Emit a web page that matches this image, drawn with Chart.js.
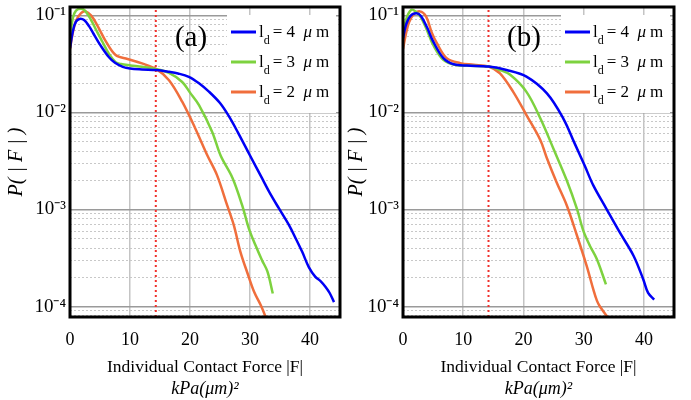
<!DOCTYPE html>
<html>
<head>
<meta charset="utf-8">
<script src="https://cdn.jsdelivr.net/npm/chart.js@4"></script>
<style>
  html, body { margin: 0; padding: 0; background: #fff; }
  #wrap { position: relative; width: 691px; height: 400px; }
  .panel { position: absolute; top: 0; height: 400px; }
  #pa { left: 0; width: 345px; }
  #pb { left: 345px; width: 346px; }
</style>
</head>
<body>
<div id="wrap">
  <div class="panel" id="pa"><canvas id="chartA"></canvas></div>
  <div class="panel" id="pb"><canvas id="chartB"></canvas></div>
</div>
<script>
// legend values of l_d (micrometres)
const ldValues = ['4', '3', '2'];
const lineColors = ['#0000f5', '#7dd23f', '#f06e3c'];
const xTicks = [0, 10, 20, 30, 40];
const yMin = 7.8e-5, yMax = 0.122;

// panel (a)
const aX4 = [0, 0.5, 1, 1.6, 2.4, 3.2, 4.1, 5.0, 6.5, 7.5, 8.8, 10, 12, 14.4, 16.5, 18, 19.8, 21.5, 23.2, 25, 26.5, 28, 30, 32, 33.2, 34.8, 36.5, 37.6, 38.7, 39.8, 40.9, 41.8, 42.6, 43.3, 44];
const aY4 = [0.046, 0.07, 0.086, 0.092, 0.089, 0.077, 0.062, 0.05, 0.037, 0.0325, 0.0295, 0.0283, 0.0277, 0.0273, 0.0262, 0.0252, 0.0233, 0.020, 0.0163, 0.0125, 0.0091, 0.0062, 0.0036, 0.0021, 0.00152, 0.00103, 0.00069, 0.000506, 0.000366, 0.000255, 0.000202, 0.000182, 0.000159, 0.000137, 0.000111];
const aX3 = [0, 0.5, 1, 1.8, 2.5, 3.5, 4.5, 5.4, 6.5, 7.6, 8.5, 10.1, 12, 14.4, 16.5, 18.7, 20, 21.5, 23.7, 25.1, 27.1, 28.7, 29.8, 30.9, 32, 32.9, 33.8];
const aY3 = [0.06, 0.095, 0.112, 0.117, 0.112, 0.09, 0.068, 0.0535, 0.04, 0.033, 0.0315, 0.0305, 0.0295, 0.0279, 0.0255, 0.0206, 0.016, 0.0119, 0.0063, 0.0036, 0.0021, 0.0011, 0.00064, 0.00043, 0.0003, 0.00023, 0.000136];
const aX2 = [0, 0.5, 1, 1.8, 2.6, 3.5, 4.5, 5.9, 7.6, 9.6, 12, 14.4, 16.5, 18.7, 20.9, 22.9, 24.5, 26.2, 27.3, 28.4, 29.6, 30.7, 31.8, 32.6, 33.2];
const aY2 = [0.045, 0.068, 0.088, 0.105, 0.11, 0.1, 0.08, 0.055, 0.039, 0.0355, 0.032, 0.0279, 0.0215, 0.0129, 0.0068, 0.0036, 0.00226, 0.0011, 0.00069, 0.000366, 0.000219, 0.000141, 0.000103, 0.000078, 0.00006];
const cutA = 14.3;

// panel (b)
const bX4 = [0, 0.5, 1.2, 2.2, 3, 4, 5, 6.7, 8.4, 10.6, 14.2, 17.2, 20.5, 23.9, 26.6, 28.5, 30.2, 31.6, 33.8, 36, 38.3, 39.9, 40.7, 41.7];
const bY4 = [0.058, 0.08, 0.098, 0.105, 0.098, 0.075, 0.054, 0.0363, 0.0314, 0.0304, 0.0297, 0.0274, 0.0234, 0.0157, 0.0087, 0.0048, 0.0028, 0.00177, 0.00101, 0.00058, 0.000332, 0.00019, 0.000138, 0.000118];
const bX3 = [0, 0.5, 1.4, 2.2, 3, 4, 5, 6.7, 8.6, 11, 14.2, 16, 17.8, 20.5, 22.8, 25, 27.2, 28.9, 29.95, 31.05, 32.2, 33.7];
const bY3 = [0.06, 0.09, 0.114, 0.108, 0.095, 0.07, 0.0498, 0.0348, 0.0309, 0.0302, 0.0297, 0.0275, 0.0244, 0.0163, 0.0087, 0.0042, 0.00199, 0.00101, 0.000602, 0.000421, 0.000307, 0.000169];
const bX2 = [0, 0.5, 1, 1.8, 2.8, 3.8, 4.8, 5.6, 7.25, 9.5, 11.7, 14.2, 16.1, 18.3, 20.5, 22.8, 23.8, 25.5, 27.2, 28.9, 30.5, 31.6, 32.2, 32.7, 34.1];
const bY2 = [0.045, 0.065, 0.085, 0.103, 0.11, 0.098, 0.066, 0.052, 0.0363, 0.0322, 0.031, 0.0297, 0.0253, 0.0163, 0.0094, 0.0052, 0.0035, 0.00191, 0.0011, 0.000536, 0.000262, 0.00015, 0.000115, 0.0001, 0.000076];
const cutB = 14.2;

const SERIF = "'Liberation Serif', 'Times New Roman', serif";
const SUP = { '-': '\u207B', '0': '\u2070', '1': '\u00B9', '2': '\u00B2', '3': '\u00B3', '4': '\u2074', '5': '\u2075' };

// legend box, panel tag, frame and the unit line under the x title
const panelDecor = {
  id: 'panelDecor',
  beforeDatasetsDraw(chart) {
    const { ctx, chartArea: a } = chart;
    ctx.save();
    ctx.fillStyle = '#fff';
    ctx.fillRect(a.right - 113, a.top + 8, 109, 98);
    ctx.restore();
  },
  afterDraw(chart, args, opts) {
    const { ctx, chartArea: a } = chart;
    ctx.save();
    chart.data.datasets.forEach((ds, i) => {
      if (!ds.ldLabel) return;
      const y = a.top + 25 + i * 30;
      ctx.strokeStyle = ds.borderColor;
      ctx.lineWidth = 3;
      ctx.beginPath();
      ctx.moveTo(a.right - 109, y);
      ctx.lineTo(a.right - 84, y);
      ctx.stroke();
      ctx.fillStyle = '#000';
      ctx.textAlign = 'left';
      ctx.textBaseline = 'alphabetic';
      let x = a.right - 81;
      ctx.font = '17px ' + SERIF;
      ctx.fillText('l', x, y + 5);
      x += ctx.measureText('l').width;
      ctx.font = '12px ' + SERIF;
      ctx.fillText('d', x, y + 12);
      x += ctx.measureText('d').width + 3;
      ctx.font = '17px ' + SERIF;
      const t = '= ' + ds.ldLabel + '  ';
      ctx.fillText(t, x, y + 5);
      x += ctx.measureText(t).width;
      ctx.font = 'italic 17px ' + SERIF;
      ctx.fillText('\u03BC', x, y + 5);
      x += ctx.measureText('\u03BC').width + 4;
      ctx.font = '17px ' + SERIF;
      ctx.fillText('m', x, y + 5);
    });
    ctx.fillStyle = '#000';
    ctx.font = '29px ' + SERIF;
    ctx.textAlign = 'center';
    ctx.textBaseline = 'middle';
    ctx.fillText(opts.tag, a.left + 121, a.top + 31);
    ctx.font = 'italic 18px ' + SERIF;
    ctx.fillText('kPa(\u03BCm)\u00B2', (a.left + a.right) / 2, 389);
    ctx.strokeStyle = '#000';
    ctx.lineWidth = 3;
    ctx.strokeRect(a.left, a.top, a.right - a.left, a.bottom - a.top);
    ctx.restore();
  }
};

function series(xs, ys) {
  return xs.map((x, i) => ({ x: x, y: ys[i] }));
}

function buildChart(id, sets, cut, tag, yLeft, padRight, titlePad) {
  const datasets = sets.map((s, i) => ({
    data: series(s[0], s[1]),
    borderColor: lineColors[i],
    borderWidth: 2.5,
    pointRadius: 0,
    fill: false,
    tension: 0.35,
    ldLabel: ldValues[i]
  }));
  datasets.push({
    data: [{ x: cut, y: yMin }, { x: cut, y: yMax }],
    borderColor: '#f0322d',
    borderWidth: 2,
    borderDash: [2, 3],
    pointRadius: 0,
    fill: false
  });

  new Chart(document.getElementById(id), {
    type: 'line',
    data: { datasets: datasets },
    options: {
      responsive: true,
      maintainAspectRatio: false,
      animation: false,
      layout: { padding: { left: 0, right: padRight, top: 7, bottom: 0 } },
      plugins: {
        legend: { display: false },
        tooltip: { enabled: false },
        panelDecor: { tag: tag }
      },
      scales: {
        x: {
          type: 'linear',
          min: 0,
          max: 45,
          afterFit: s => { s.height = 83; s.paddingLeft = 0; s.paddingRight = 0; },
          afterBuildTicks: s => { s.ticks = xTicks.map(v => ({ value: v })); },
          ticks: { font: { family: SERIF, size: 18 }, color: '#000', padding: 12, maxRotation: 0 },
          grid: { color: c => (c.tick && c.tick.value > 0 ? '#c4c4c4' : 'rgba(0,0,0,0)'), lineWidth: 1.5, drawTicks: false },
          border: { display: false },
          title: {
            display: true,
            text: 'Individual Contact Force |F|',
            font: { family: SERIF, size: 17.5 },
            color: '#000',
            padding: { top: 0, bottom: 22 }
          }
        },
        y: {
          type: 'logarithmic',
          min: yMin,
          max: yMax,
          afterFit: s => { s.width = yLeft; s.paddingTop = 0; s.paddingBottom = 0; },
          afterBuildTicks: s => {
            const t = [];
            for (let e = -5; e <= -1; e++) {
              for (let k = 1; k <= 9; k++) {
                const v = k * Math.pow(10, e);
                if (v >= yMin && v <= yMax) t.push({ value: v, major: k === 1, exp: e });
              }
            }
            s.ticks = t;
          },
          ticks: {
            autoSkip: false,
            font: { family: SERIF, size: 19 },
            color: '#000',
            padding: 4,
            callback: (v, i, ticks) => {
              const tk = ticks[i];
              if (!tk.major) return '';
              return '10' + String(tk.exp).split('').map(ch => SUP[ch]).join('');
            }
          },
          grid: {
            color: c => (c.tick && c.tick.major ? '#9a9a9a' : '#c8c8c8'),
            lineWidth: c => (c.tick && c.tick.major ? 1.5 : 1),
            drawTicks: false
          },
          border: { display: false, dash: c => (c.tick && c.tick.major ? [] : [2, 2]) },
          title: {
            display: true,
            text: 'P( | F | )',
            font: { family: SERIF, size: 20, style: 'italic' },
            color: '#000',
            padding: { top: titlePad, bottom: 0 }
          }
        }
      }
    },
    plugins: [panelDecor]
  });
}

buildChart('chartA', [[aX4, aY4], [aX3, aY3], [aX2, aY2]], cutA, '(a)', 70, 5, 5);
buildChart('chartB', [[bX4, bY4], [bX3, bY3], [bX2, bY2]], cutB, '(b)', 58, 17, 0);
</script>
</body>
</html>
